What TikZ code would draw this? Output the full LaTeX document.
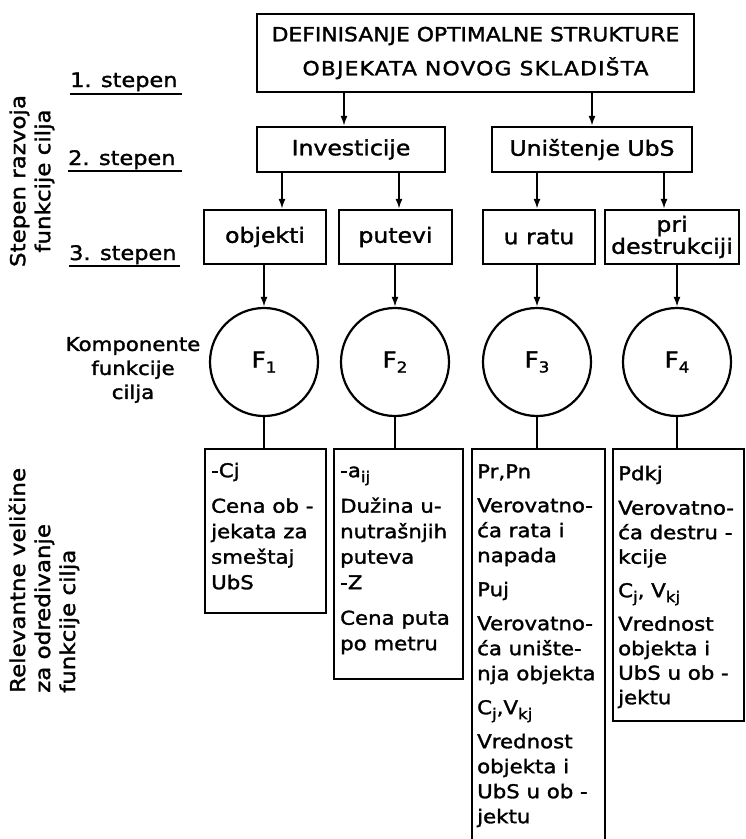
\documentclass[tikz,border=0pt]{standalone}
\usepackage{fontspec}
\setmainfont[FakeStretch=1.12, FakeBold=1.6]{DejaVu Sans}
\usetikzlibrary{arrows.meta}
\newcommand{\lowr}[1]{\raisebox{-5pt}{\fontsize{15}{15}\selectfont #1}}
\tikzset{
  box/.style={draw, line width=2.2pt, inner sep=0pt},
  arr/.style={line width=1.9pt, -{Latex[length=10pt,width=7pt]}},
  ln/.style={line width=1.9pt},
  circ/.style={draw, circle, line width=2.2pt, minimum size=108pt, inner sep=0pt, font=\fontsize{22}{24}\selectfont},
  lbl/.style={font=\fontsize{21}{22}\selectfont},
  stp/.style={font=\fontsize{20}{24}\selectfont, anchor=base west, inner sep=0pt},
  txt/.style={font=\fontsize{19}{25.5}\selectfont, align=left, anchor=north west, inner sep=0pt},
  txtb/.style={txt, font=\fontsize{19}{24.5}\selectfont},
  txtc/.style={txt, font=\fontsize{19}{25}\selectfont},
  vlab/.style={font=\fontsize{20.5}{25}\selectfont, rotate=90, inner sep=0pt}
}
\begin{document}
\begin{tikzpicture}[x=1pt,y=-1pt]
\useasboundingbox (0,0) rectangle (746,839);
\fill[white] (0,0) rectangle (746,839);

% level labels
\node[stp] (s1) at (70,87) {1. stepen};
\node[stp] (s2) at (68,165) {2. stepen};
\node[stp] (s3) at (69,260) {3. stepen};
\draw[ln] ([yshift=-7pt]s1.base west) -- ++(112,0);
\draw[ln] ([yshift=-6pt]s2.base west) -- ++(114,0);
\draw[ln] ([yshift=-6pt]s3.base west) -- ++(111,0);

\node[vlab, align=center] (vl1) at (32,181) {Stepen razvoja\\funkcije cilja};
\node[vlab, align=left, anchor=west] (vl2) at (44,693) {Relevantne veličine\\za odredivanje\\funkcije cilja};
\node[align=center, font=\fontsize{19}{24}\selectfont, inner sep=0pt] (komp) at (133,370) {Komponente\\funkcije\\cilja};

% level 1
\node[box, minimum width=437pt, minimum height=78pt, align=center, font=\fontsize{19.5}{34}\selectfont] (top) at (475.5,53)
  {DEFINISANJE OPTIMALNE STRUKTURE\\{\addfontfeature{LetterSpace=6}OBJEKATA NOVOG SKLADIŠTA}};

% level 2
\node[box, lbl, minimum width=188pt, minimum height=45pt] (inv) at (351,149.5) {Investicije};
\node[box, lbl, minimum width=200pt, minimum height=45pt] (uni) at (592,149.5) {Uništenje UbS};

% level 3
\node[box, lbl, minimum width=122pt, minimum height=54pt] (obj) at (265,237) {objekti};
\node[box, lbl, minimum width=113pt, minimum height=54pt] (put) at (395.5,237) {putevi};
\node[box, lbl, minimum width=112pt, minimum height=54pt] (rat) at (539,237) {u ratu};
\node[box, lbl, minimum width=134pt, minimum height=54pt, align=center] (des) at (672,237) {pri\\destrukciji};

% components
\node[circ] (F1) at (264,362) {F\lowr{1}};
\node[circ] (F2) at (395,362) {F\lowr{2}};
\node[circ] (F3) at (537,362) {F\lowr{3}};
\node[circ] (F4) at (677,362) {F\lowr{4}};

% bottom boxes
\node[box, anchor=north west, minimum width=121pt, minimum height=164pt] (b1) at (204,448) {};
\node[box, anchor=north west, minimum width=129pt, minimum height=230pt] (b2) at (333,448) {};
\node[box, anchor=north west, minimum width=133pt, minimum height=420pt] (b3) at (471,448) {};
\node[box, anchor=north west, minimum width=131pt, minimum height=272pt] (b4) at (612,448) {};

\node[txt] (b1t) at ([xshift=7pt,yshift=-14pt]b1.north west)
  {\rule{0pt}{15pt}-Cj\\[10pt]Cena ob -\\jekata za\\smeštaj\\UbS};
\node[txt] (b2t) at ([xshift=7pt,yshift=-14pt]b2.north west)
  {\rule{0pt}{15pt}-a\lowr{ij}\\[10pt]Dužina u-\\nutrašnjih\\puteva\\-Z\\[10pt]Cena puta\\po metru};
\node[txtc] (b3t) at ([xshift=6pt,yshift=-15pt]b3.north west)
  {\rule{0pt}{15pt}Pr,Pn\\[9pt]Verovatno-\\ća rata i\\napada\\[9pt]Puj\\[9pt]Verovatno-\\ća unište-\\nja objekta\\[9pt]C\lowr{j},V\lowr{kj}\\[9pt]Vrednost\\objekta i\\UbS u ob -\\jektu};
\node[txtb] (b4t) at ([xshift=6pt,yshift=-17pt]b4.north west)
  {\rule{0pt}{15pt}Pdkj\\[10pt]Verovatno-\\ća destru -\\kcije\\[9pt]C\lowr{j}, V\lowr{kj}\\[9pt]Vrednost\\objekta i\\UbS u ob -\\jektu};

% connectors
\draw[arr] ([xshift=-7pt]inv.north |- top.south) -- ([xshift=-7pt]inv.north);
\draw[arr] (uni.north |- top.south) -- (uni.north);
\draw[arr] ([xshift=17pt]obj.north |- inv.south) -- ([xshift=17pt]obj.north);
\draw[arr] ([xshift=3.5pt]put.north |- inv.south) -- ([xshift=3.5pt]put.north);
\draw[arr] ([xshift=-2pt]rat.north |- uni.south) -- ([xshift=-2pt]rat.north);
\draw[arr] ([xshift=-8pt]des.north |- uni.south) -- ([xshift=-8pt]des.north);
\draw[arr] (F1.north |- obj.south) -- (F1.north);
\draw[arr] (F2.north |- put.south) -- (F2.north);
\draw[arr] (F3.north |- rat.south) -- (F3.north);
\draw[arr] (F4.north |- des.south) -- (F4.north);
\draw[ln] (F1.south) -- (F1.south |- b1.north);
\draw[ln] (F2.south) -- (F2.south |- b2.north);
\draw[ln] (F3.south) -- (F3.south |- b3.north);
\draw[ln] (F4.south) -- (F4.south |- b4.north);
\end{tikzpicture}
\end{document}
